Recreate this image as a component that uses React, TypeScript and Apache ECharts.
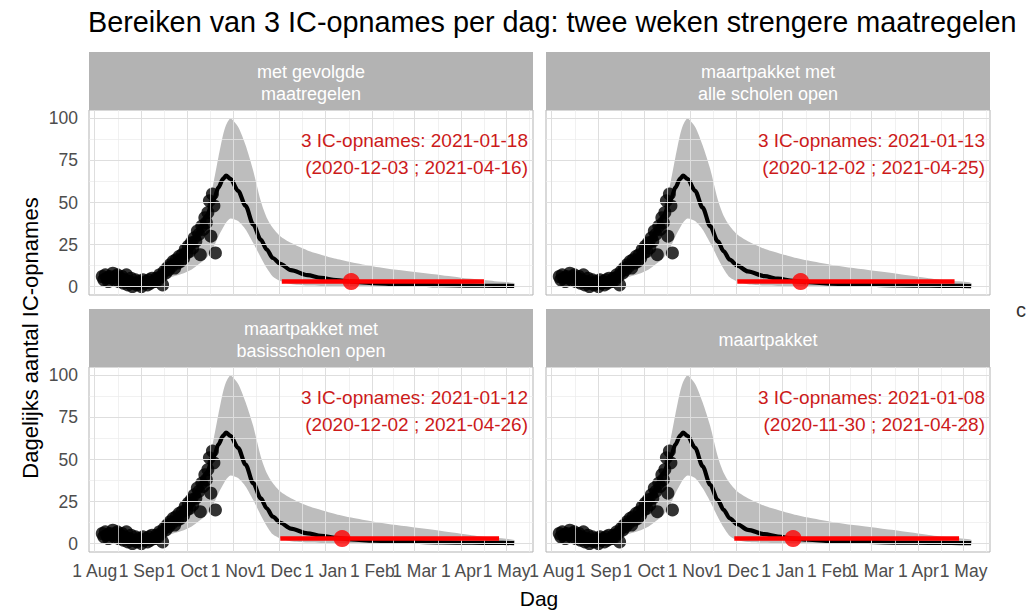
import React, { useEffect, useRef } from 'react';
import * as echarts from 'echarts';

const FONT = 'Liberation Sans, Arial, Helvetica, sans-serif';

const TITLE = 'Bereiken van 3 IC-opnames per dag: twee weken strengere maatregelen';
const Y_TITLE = 'Dagelijks aantal IC-opnames';
const X_TITLE = 'Dag';
const panelTitles = [
  'met gevolgde\nmaatregelen',
  'maartpakket met\nalle scholen open',
  'maartpakket met\nbasisscholen open',
  'maartpakket',
];
const annotLine1 = [
  '3 IC-opnames: 2021-01-18',
  '3 IC-opnames: 2021-01-13',
  '3 IC-opnames: 2021-01-12',
  '3 IC-opnames: 2021-01-08',
];
const annotLine2 = [
  '(2020-12-03 ; 2021-04-16)',
  '(2020-12-02 ; 2021-04-25)',
  '(2020-12-02 ; 2021-04-26)',
  '(2020-11-30 ; 2021-04-28)',
];

// x values are days since 2020-08-01
const threshold = 3;
const crossDay = [170, 165, 164, 160];
const rangeStart = [124, 123, 123, 121];
const rangeEnd = [258, 267, 268, 270];

const tickDays = [0, 31, 61, 92, 122, 153, 184, 212, 243, 273];
const tickLabels = ['1 Aug', '1 Sep', '1 Oct', '1 Nov', '1 Dec', '1 Jan', '1 Feb', '1 Mar', '1 Apr', '1 May'];
const minorDays = [15.5, 46, 76.5, 107, 137.5, 168.5, 198, 227.5, 258, 288];
const yTicks = [0, 25, 50, 75, 100];
const yMinor = [12.5, 37.5, 62.5, 87.5];

// observed daily IC admissions, from day 5 (2020-08-06) onwards
const obsStartDay = 5;
const obsValues = [
  6, 4, 7, 5, 3, 6, 5, 8, 4, 6,
  7, 3, 5, 6, 2, 4, 7, 1, 3, 5,
  0, 2, 4, 1, 3, 2, 0, 4, 2, 3,
  1, 4, 2, 5, 3, 3, 5, 4, 7, 6,
  1, 9, 8, 11, 10, 13, 12, 15, 11, 16,
  14, 18, 15, 19, 17, 22, 20, 24, 21, 26,
  23, 29, 27, 33, 31, 19, 36, 34, 41, 38,
  44, 51, 30, 55, 48, 20,
];

const modelDays = [5, 20, 35, 45, 52, 59, 64, 70, 74, 79, 82, 85, 87, 90, 95,
  100, 105, 110, 114, 118, 123, 130, 141, 150, 160, 170, 185, 200, 230, 250, 265, 278];

const medianTL = [4, 3, 3.5, 6, 12, 18, 25, 34, 42, 52, 59, 64, 66, 64, 57,
  48, 37, 28, 22, 17, 13.5, 9.8, 6.8, 5.2, 3.9, 3.0, 2.1, 1.5, 0.8, 0.55, 0.45, 0.35];
const medianTR = [4, 3, 3.5, 6, 12, 18, 25, 34, 42, 52, 59, 64, 66, 64, 57,
  47, 36, 27, 21, 16, 12.5, 9, 6.2, 4.7, 3.4, 2.6, 1.8, 1.25, 0.7, 0.5, 0.4, 0.3];
const medianBL = [4, 3, 3.5, 6, 12, 18, 25, 34, 42, 52, 59, 64, 66, 64, 57,
  47, 36, 27, 21, 16, 12.4, 8.9, 6.1, 4.6, 3.35, 2.5, 1.7, 1.2, 0.7, 0.5, 0.4, 0.3];
const medianBR = [4, 3, 3.5, 6, 12, 18, 25, 34, 42, 52, 59, 64, 66, 64, 57,
  46, 35, 26, 20, 15, 11.5, 8.2, 5.6, 4.2, 3, 2.3, 1.6, 1.1, 0.6, 0.45, 0.35, 0.3];

const lowerTL = [2, 2, 2.5, 4, 6, 8, 10, 14, 17, 24, 30, 35, 38, 40.5, 39,
  34, 26, 17.5, 11, 6, 3.3, 1.5, 0.6, 0.35, 0.2, 0.15, 0.1, 0.1, 0.1, 0.1, 0.1, 0.1];
const lowerTR = [2, 2, 2.5, 4, 6, 8, 10, 14, 17, 24, 30, 35, 38, 40.5, 39,
  34, 26, 17, 10.5, 5.5, 3.0, 1.4, 0.6, 0.35, 0.2, 0.15, 0.1, 0.1, 0.1, 0.1, 0.1, 0.1];
const lowerBL = [2, 2, 2.5, 4, 6, 8, 10, 14, 17, 24, 30, 35, 38, 40.5, 39,
  34, 26, 17, 10.5, 5.5, 3.0, 1.4, 0.6, 0.35, 0.2, 0.15, 0.1, 0.1, 0.1, 0.1, 0.1, 0.1];
const lowerBR = [2, 2, 2.5, 4, 6, 8, 10, 14, 17, 24, 30, 35, 38, 40.5, 39,
  33, 25, 16, 9.5, 4.5, 2.0, 1.0, 0.5, 0.3, 0.2, 0.15, 0.1, 0.1, 0.1, 0.1, 0.1, 0.1];

const upperTL = [5, 5, 6, 9, 15, 22, 28, 35, 43, 63, 77, 90, 96, 100, 95,
  84, 69, 51, 41, 35, 30, 26, 21.5, 19, 16.5, 14.5, 12, 10, 6.8, 4.6, 3.2, 2.1];
const upperTR = [5, 5, 6, 9, 15, 22, 28, 35, 43, 63, 77, 90, 96, 100, 95,
  84, 70, 52, 42, 36, 31, 27, 22.5, 20, 17.5, 15.5, 13, 11, 7.5, 5, 3.4, 2.2];
const upperBL = [5, 5, 6, 9, 15, 22, 28, 35, 43, 63, 77, 90, 96, 100, 95,
  84, 70, 52, 42, 36, 31, 27, 22.5, 20, 17.5, 15.5, 13, 11, 7.5, 5, 3.4, 2.2];
const upperBR = [5, 5, 6, 9, 15, 22, 28, 35, 43, 63, 77, 90, 96, 100, 95,
  84, 70, 52, 42, 36, 31, 27, 22.5, 20, 17.5, 15.5, 13, 11, 7.6, 5.1, 3.5, 2.3];

const medians = [medianTL, medianTR, medianBL, medianBR];
const lowers = [lowerTL, lowerTR, lowerBL, lowerBR];
const uppers = [upperTL, upperTR, upperBL, upperBR];

// layout
const xMin = -3.8;
const xMax = 290.5;
const yMin = -5;
const yMax = 105;
const gridLeft = [89, 546, 89, 546];
const gridTop = [110, 110, 367, 367];
const gridW = 444;
const gridH = 185;
const stripTop = [52, 52, 309, 309];
const stripH = 58;

function buildOption() {
  const grids: any[] = [];
  const xAxes: any[] = [];
  const yAxes: any[] = [];
  const series: any[] = [];
  const graphics: any[] = [];

  const fmtX = (v: number) => {
    const i = tickDays.indexOf(Math.round(v));
    return i >= 0 ? tickLabels[i] : '';
  };

  for (let p = 0; p < 4; p++) {
    const bottomRow = p >= 2;
    const leftCol = p % 2 === 0;
    grids.push({
      left: gridLeft[p], top: gridTop[p], width: gridW, height: gridH,
      show: true, borderColor: '#B3B3B3', borderWidth: 1, backgroundColor: '#FFFFFF',
      containLabel: false,
    });
    xAxes.push({
      type: 'value', gridIndex: p, min: xMin, max: xMax,
      axisLine: { show: false }, splitLine: { show: false },
      axisTick: { show: bottomRow, customValues: tickDays, length: 4, lineStyle: { color: '#B3B3B3', width: 1 } },
      axisLabel: {
        show: bottomRow, customValues: tickDays, formatter: fmtX,
        color: '#4D4D4D', fontSize: 17.5, fontFamily: FONT, margin: 10,
      },
    });
    yAxes.push({
      type: 'value', gridIndex: p, min: yMin, max: yMax,
      axisLine: { show: false }, splitLine: { show: false },
      axisTick: { show: leftCol, customValues: yTicks, length: 4, lineStyle: { color: '#B3B3B3', width: 1 } },
      axisLabel: {
        show: leftCol, customValues: yTicks,
        color: '#4D4D4D', fontSize: 17.5, fontFamily: FONT, margin: 11,
      },
    });

    const gl = (axis: string, v: number, major: boolean) => ({
      [axis]: v,
      lineStyle: { color: major ? '#DEDEDE' : '#EBEBEB', width: major ? 1 : 0.7, type: 'solid' },
    });
    series.push({
      type: 'line', xAxisIndex: p, yAxisIndex: p, data: [], z: 1, silent: true,
      markLine: {
        silent: true, symbol: ['none', 'none'], label: { show: false }, animation: false,
        data: [
          ...minorDays.map((d) => gl('xAxis', d, false)),
          ...yMinor.map((d) => gl('yAxis', d, false)),
          ...tickDays.map((d) => gl('xAxis', d, true)),
          ...yTicks.map((d) => gl('yAxis', d, true)),
        ],
      },
    });

    const lo = lowers[p];
    const up = uppers[p];
    series.push({
      type: 'custom', xAxisIndex: p, yAxisIndex: p, z: 2, silent: true,
      data: modelDays.map((d, i) => [d, lo[i], up[i]]),
      encode: { x: 0, y: [1, 2] },
      renderItem: (params: any, api: any) => {
        if (params.dataIndex !== 0) return { type: 'group', children: [] };
        const top = modelDays.map((d, i) => api.coord([d, up[i]]));
        const bottom = modelDays.map((d, i) => api.coord([d, lo[i]])).reverse();
        return {
          type: 'polygon',
          shape: { points: [...top, ...bottom], smooth: 0.25 },
          style: { fill: '#BDBDBD' },
        };
      },
    });
    series.push({
      type: 'line', xAxisIndex: p, yAxisIndex: p, z: 3,
      data: modelDays.map((d, i) => [d, medians[p][i]]),
      showSymbol: false, symbol: 'none', smooth: 0.3, smoothMonotone: 'x',
      lineStyle: { color: '#000000', width: 4.2 }, silent: true,
    });
    series.push({
      type: 'scatter', xAxisIndex: p, yAxisIndex: p, z: 4,
      data: obsValues.map((v, i) => [obsStartDay + i, v]),
      symbol: 'circle', symbolSize: 13, itemStyle: { color: '#000000' }, silent: true,
    });
    series.push({
      type: 'line', xAxisIndex: p, yAxisIndex: p, z: 5,
      data: [[rangeStart[p], threshold], [rangeEnd[p], threshold]],
      showSymbol: false, symbol: 'none',
      lineStyle: { color: '#FF0000', width: 4.5 }, silent: true,
    });
    series.push({
      type: 'scatter', xAxisIndex: p, yAxisIndex: p, z: 6,
      data: [[crossDay[p], threshold]],
      symbol: 'circle', symbolSize: 17, itemStyle: { color: '#FF0000' }, silent: true,
    });

    // strip header
    graphics.push({
      type: 'rect', shape: { x: gridLeft[p], y: stripTop[p], width: gridW, height: stripH },
      style: { fill: '#B3B3B3' }, silent: true,
    });
    const lines = panelTitles[p].split('\n');
    const cx = gridLeft[p] + gridW / 2;
    const cy = stripTop[p] + stripH / 2 + 2;
    lines.forEach((ln, i) => {
      graphics.push({
        type: 'text', x: cx, y: cy + (i - (lines.length - 1) / 2) * 22,
        style: {
          text: ln, fill: '#FFFFFF', fontSize: 18, fontFamily: FONT,
          textAlign: 'center', textVerticalAlign: 'middle',
        }, silent: true,
      });
    });
    // annotation
    const ax = gridLeft[p] + gridW - 5;
    graphics.push({
      type: 'text', x: ax, y: gridTop[p] + 30,
      style: { text: annotLine1[p], fill: '#CC1A1A', fontSize: 19, fontFamily: FONT, textAlign: 'right', textVerticalAlign: 'middle' },
      silent: true, z: 10,
    });
    graphics.push({
      type: 'text', x: ax, y: gridTop[p] + 57,
      style: { text: annotLine2[p], fill: '#CC1A1A', fontSize: 19, fontFamily: FONT, textAlign: 'right', textVerticalAlign: 'middle' },
      silent: true, z: 10,
    });
  }

  graphics.push({
    type: 'text', x: 88, y: 22,
    style: { text: TITLE, fill: '#000000', fontSize: 28.8, fontFamily: FONT, textAlign: 'left', textVerticalAlign: 'middle' },
    silent: true,
  });
  graphics.push({
    type: 'text', x: 539, y: 598,
    style: { text: X_TITLE, fill: '#000000', fontSize: 21, fontFamily: FONT, textAlign: 'center', textVerticalAlign: 'middle' },
    silent: true,
  });
  graphics.push({
    type: 'text', x: 30, y: 338, rotation: Math.PI / 2,
    style: { text: Y_TITLE, fill: '#000000', fontSize: 22, fontFamily: FONT, textAlign: 'center', textVerticalAlign: 'middle' },
    silent: true,
  });
  graphics.push({
    type: 'text', x: 1016, y: 310,
    style: { text: 'c', fill: '#333333', fontSize: 20, fontFamily: FONT, textAlign: 'left', textVerticalAlign: 'middle' },
    silent: true,
  });

  return {
    animation: false,
    backgroundColor: '#FFFFFF',
    grid: grids,
    xAxis: xAxes,
    yAxis: yAxes,
    series,
    graphic: { elements: graphics },
  };
}

export default function App() {
  const ref = useRef<HTMLDivElement>(null);
  useEffect(() => {
    if (!ref.current) return;
    const chart = echarts.init(ref.current, null, { renderer: 'svg' });
    chart.setOption(buildOption() as any);
    return () => chart.dispose();
  }, []);
  return (
    <div
      ref={ref}
      style={{ position: 'absolute', left: 0, top: 0, width: 1034, height: 613 }}
    />
  );
}
